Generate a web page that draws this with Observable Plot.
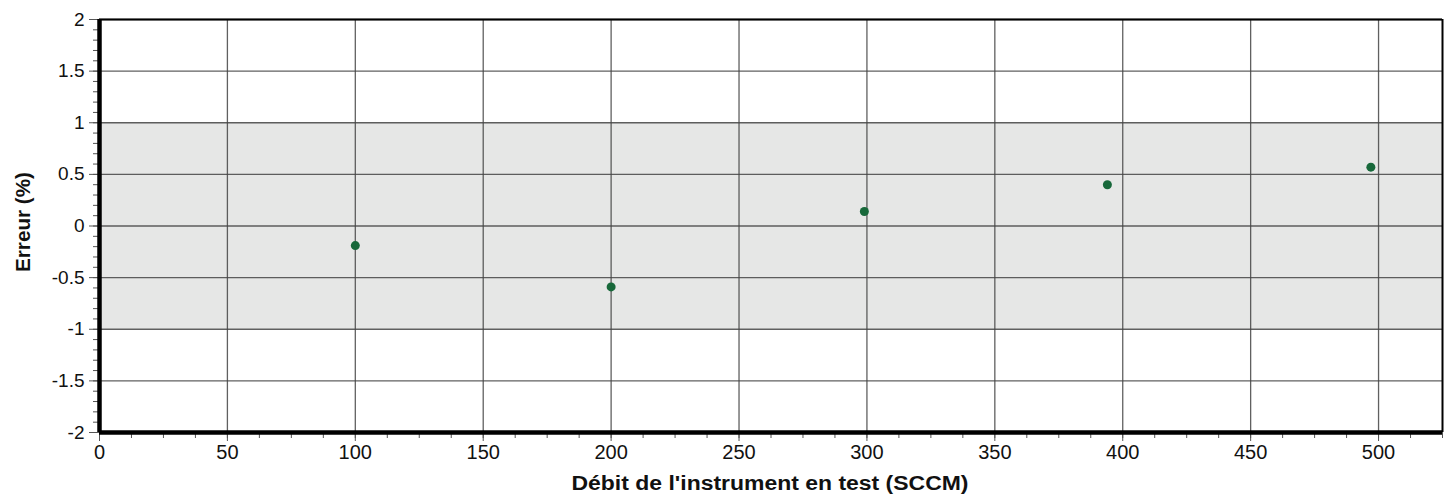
<!DOCTYPE html>
<html>
<head>
<meta charset="utf-8">
<script src="https://cdn.jsdelivr.net/npm/d3@7"></script>
<script src="https://cdn.jsdelivr.net/npm/@observablehq/plot@0.6"></script>
<style>
  html, body { margin: 0; padding: 0; background: #fff; }
  svg { font-family: "Liberation Sans", Arial, sans-serif; }
</style>
</head>
<body>
<div id="chart"></div>
<script>
// Data
const debit = [100, 200, 299, 394, 497];          // SCCM
const erreur = [-0.19, -0.59, 0.14, 0.40, 0.57];  // %
const toleranceLow = -1;
const toleranceHigh = 1;
const xTicks = [0, 50, 100, 150, 200, 250, 300, 350, 400, 450, 500];
const yTicks = [-2, -1.5, -1, -0.5, 0, 0.5, 1, 1.5, 2];
const xDomain = [0, 525];
const yDomain = [-2, 2];

const points = debit.map((d, i) => ({x: d, y: erreur[i]}));
const xMinor = d3.range(0, 525.01, 12.5);
const yMinor = d3.range(-20, 21).map(v => v / 10);

const chart = Plot.plot({
  width: 1450,
  height: 498,
  marginLeft: 99,
  marginRight: 8,
  marginTop: 19,
  marginBottom: 66,
  style: {fontFamily: "Liberation Sans, Arial, sans-serif", color: "#111", background: "#fff"},
  x: {domain: xDomain, label: null},
  y: {domain: yDomain, label: null},
  marks: [
    Plot.rect([{y1: toleranceLow, y2: toleranceHigh}], {x1: xDomain[0], x2: xDomain[1], y1: "y1", y2: "y2", fill: "#e6e7e6"}),
    Plot.gridX(xTicks, {stroke: "#444", strokeOpacity: 0.85, strokeWidth: 1.3}),
    Plot.gridY(yTicks, {stroke: "#444", strokeOpacity: 0.85, strokeWidth: 1.3}),
    Plot.axisX(xMinor, {tickSize: 6, tickFormat: null, text: null, stroke: "#555"}),
    Plot.axisY(yMinor, {tickSize: 6, tickFormat: null, text: null, stroke: "#555"}),
    Plot.axisX(xTicks, {tickSize: 9, tickPadding: 3, fontSize: 20, tickFormat: d => String(d), stroke: "#555", fill: "#111", label: null}),
    Plot.axisY(yTicks, {tickSize: 10, tickPadding: 5, fontSize: 19, tickFormat: d => String(d), stroke: "#555", fill: "#111", label: null}),
    Plot.ruleY([yDomain[1]], {stroke: "#000", strokeWidth: 2}),
    Plot.ruleX([xDomain[1]], {stroke: "#000", strokeWidth: 2}),
    Plot.ruleY([yDomain[0]], {stroke: "#000", strokeWidth: 4.5}),
    Plot.ruleX([xDomain[0]], {stroke: "#000", strokeWidth: 4.5}),
    Plot.dot(points, {x: "x", y: "y", r: 4.5, fill: "#17683a", stroke: "none"})
  ]
});

const svg = d3.select(chart);

svg.append("text")
  .attr("x", 770).attr("y", 490)
  .attr("text-anchor", "middle")
  .attr("textLength", 397)
  .attr("lengthAdjust", "spacingAndGlyphs")
  .style("font-weight", "bold")
  .style("font-size", "20px")
  .attr("fill", "#111")
  .text("Débit de l'instrument en test (SCCM)");

svg.append("text")
  .attr("transform", "translate(30,222) rotate(-90)")
  .attr("text-anchor", "middle")
  .attr("textLength", 100)
  .attr("lengthAdjust", "spacingAndGlyphs")
  .style("font-weight", "bold")
  .style("font-size", "20px")
  .attr("fill", "#111")
  .text("Erreur (%)");

document.getElementById("chart").appendChild(chart);
</script>
</body>
</html>
